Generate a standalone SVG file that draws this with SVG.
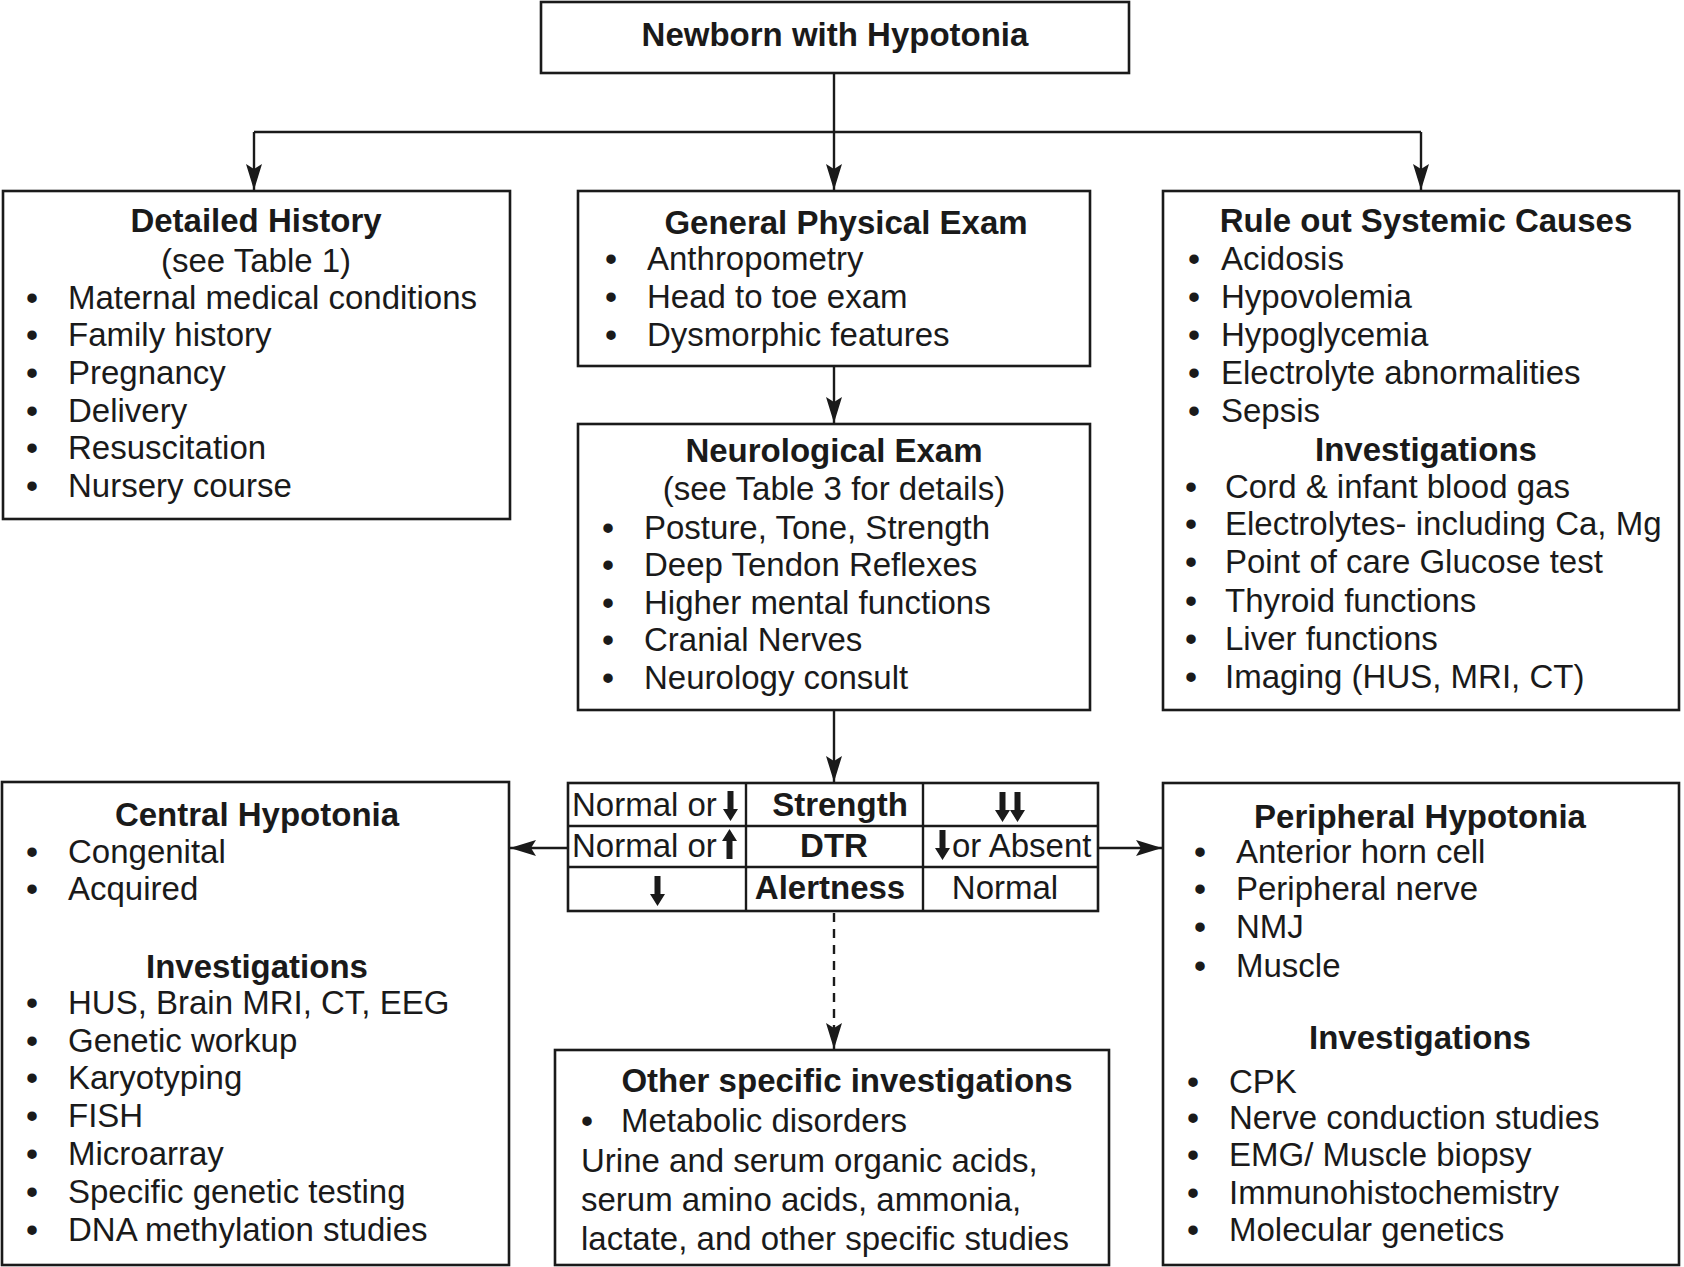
<svg xmlns="http://www.w3.org/2000/svg" width="1684" height="1267" viewBox="0 0 1684 1267">
<style>
.box{fill:#fff;stroke:#1a1a1a;stroke-width:2.6}
.ln{fill:none;stroke:#1a1a1a;stroke-width:2.4}
.dash{fill:none;stroke:#1a1a1a;stroke-width:2.4;stroke-dasharray:9 7}
text{font-family:"Liberation Sans",Arial,Helvetica,sans-serif;font-size:33px;fill:#1a1a1a}
.b{font-weight:bold}
.c{text-anchor:middle}
.bl{text-anchor:middle;font-weight:bold}
.ar{fill:#1a1a1a}
</style>
<defs>
<marker id="ah" markerUnits="userSpaceOnUse" markerWidth="28" markerHeight="18" refX="26" refY="8" orient="auto">
<path d="M0,0 L26,8 L0,16 L5,8 Z" fill="#1a1a1a"/>
</marker>
<path id="dn" class="ar" d="M4.5,0 H10.5 V18 H15 L7.5,30 L0,18 H4.5 Z"/>
<path id="up" class="ar" d="M4.5,30 H10.5 V12 H15 L7.5,0 L0,12 H4.5 Z"/>
</defs>
<rect width="1684" height="1267" fill="#fff"/>

<g id="connectors">
<line class="ln" x1="834" y1="73" x2="834" y2="190" marker-end="url(#ah)"/>
<line class="ln" x1="254" y1="132" x2="1421" y2="132"/>
<line class="ln" x1="254" y1="132" x2="254" y2="190" marker-end="url(#ah)"/>
<line class="ln" x1="1421" y1="132" x2="1421" y2="190" marker-end="url(#ah)"/>
<line class="ln" x1="834" y1="366" x2="834" y2="423" marker-end="url(#ah)"/>
<line class="ln" x1="834" y1="710" x2="834" y2="782" marker-end="url(#ah)"/>
<line class="ln" x1="568" y1="848" x2="510" y2="848" marker-end="url(#ah)"/>
<line class="ln" x1="1098" y1="848" x2="1162" y2="848" marker-end="url(#ah)"/>
<line class="dash" x1="834" y1="913" x2="834" y2="1049" marker-end="url(#ah)"/>
</g>

<g id="node-top">
<rect class="box" x="541" y="2" width="588" height="71"/>
<text class="b c" x="835" y="46">Newborn with Hypotonia</text>
</g>

<g id="node-history">
<rect class="box" x="3" y="191" width="507" height="328"/>
<text class="b c" x="256" y="232">Detailed History</text>
<text class="c" x="256" y="272">(see Table 1)</text>
<text x="32" y="309" class="bl">•</text><text x="68" y="309">Maternal medical conditions</text>
<text x="32" y="346" class="bl">•</text><text x="68" y="346">Family history</text>
<text x="32" y="384" class="bl">•</text><text x="68" y="384">Pregnancy</text>
<text x="32" y="422" class="bl">•</text><text x="68" y="422">Delivery</text>
<text x="32" y="459" class="bl">•</text><text x="68" y="459">Resuscitation</text>
<text x="32" y="497" class="bl">•</text><text x="68" y="497">Nursery course</text>
</g>

<g id="node-gpe">
<rect class="box" x="578" y="191" width="512" height="175"/>
<text class="b c" x="846" y="234">General Physical Exam</text>
<text x="611" y="270" class="bl">•</text><text x="647" y="270">Anthropometry</text>
<text x="611" y="308" class="bl">•</text><text x="647" y="308">Head to toe exam</text>
<text x="611" y="346" class="bl">•</text><text x="647" y="346">Dysmorphic features</text>
</g>

<g id="node-systemic">
<rect class="box" x="1163" y="191" width="516" height="519"/>
<text class="b c" x="1426" y="232">Rule out Systemic Causes</text>
<text x="1194" y="270" class="bl">•</text><text x="1221" y="270">Acidosis</text>
<text x="1194" y="308" class="bl">•</text><text x="1221" y="308">Hypovolemia</text>
<text x="1194" y="346" class="bl">•</text><text x="1221" y="346">Hypoglycemia</text>
<text x="1194" y="384" class="bl">•</text><text x="1221" y="384">Electrolyte abnormalities</text>
<text x="1194" y="422" class="bl">•</text><text x="1221" y="422">Sepsis</text>
<text class="b c" x="1426" y="461">Investigations</text>
<text x="1191" y="498" class="bl">•</text><text x="1225" y="498">Cord &amp; infant blood gas</text>
<text x="1191" y="535" class="bl">•</text><text x="1225" y="535">Electrolytes- including Ca, Mg</text>
<text x="1191" y="573" class="bl">•</text><text x="1225" y="573">Point of care Glucose test</text>
<text x="1191" y="612" class="bl">•</text><text x="1225" y="612">Thyroid functions</text>
<text x="1191" y="650" class="bl">•</text><text x="1225" y="650">Liver functions</text>
<text x="1191" y="688" class="bl">•</text><text x="1225" y="688">Imaging (HUS, MRI, CT)</text>
</g>

<g id="node-neuro">
<rect class="box" x="578" y="424" width="512" height="286"/>
<text class="b c" x="834" y="462">Neurological Exam</text>
<text class="c" x="834" y="500">(see Table 3 for details)</text>
<text x="608" y="539" class="bl">•</text><text x="644" y="539">Posture, Tone, Strength</text>
<text x="608" y="576" class="bl">•</text><text x="644" y="576">Deep Tendon Reflexes</text>
<text x="608" y="614" class="bl">•</text><text x="644" y="614">Higher mental functions</text>
<text x="608" y="651" class="bl">•</text><text x="644" y="651">Cranial Nerves</text>
<text x="608" y="689" class="bl">•</text><text x="644" y="689">Neurology consult</text>
</g>

<g id="node-table">
<rect class="box" x="568" y="783" width="530" height="128"/>
<line class="ln" x1="746" y1="783" x2="746" y2="911"/>
<line class="ln" x1="923" y1="783" x2="923" y2="911"/>
<line class="ln" x1="568" y1="826" x2="1098" y2="826"/>
<line class="ln" x1="568" y1="867" x2="1098" y2="867"/>
<text x="572" y="816">Normal or</text>
<use href="#dn" x="723" y="791"/>
<text class="b c" x="840" y="816">Strength</text>
<use href="#dn" x="995" y="792"/>
<use href="#dn" x="1010" y="792"/>
<text x="572" y="857">Normal or</text>
<use href="#up" x="722" y="829"/>
<text class="b c" x="834" y="857">DTR</text>
<use href="#dn" x="935" y="830"/>
<text x="952" y="857">or Absent</text>
<use href="#dn" x="650" y="876"/>
<text class="b c" x="830" y="899">Alertness</text>
<text class="c" x="1005" y="899">Normal</text>
</g>

<g id="node-central">
<rect class="box" x="2" y="782" width="507" height="483"/>
<text class="b c" x="257" y="826">Central Hypotonia</text>
<text x="32" y="863" class="bl">•</text><text x="68" y="863">Congenital</text>
<text x="32" y="900" class="bl">•</text><text x="68" y="900">Acquired</text>
<text class="b c" x="257" y="978">Investigations</text>
<text x="32" y="1014" class="bl">•</text><text x="68" y="1014">HUS, Brain MRI, CT, EEG</text>
<text x="32" y="1052" class="bl">•</text><text x="68" y="1052">Genetic workup</text>
<text x="32" y="1089" class="bl">•</text><text x="68" y="1089">Karyotyping</text>
<text x="32" y="1127" class="bl">•</text><text x="68" y="1127">FISH</text>
<text x="32" y="1165" class="bl">•</text><text x="68" y="1165">Microarray</text>
<text x="32" y="1203" class="bl">•</text><text x="68" y="1203">Specific genetic testing</text>
<text x="32" y="1241" class="bl">•</text><text x="68" y="1241">DNA methylation studies</text>
</g>

<g id="node-peripheral">
<rect class="box" x="1163" y="783" width="516" height="482"/>
<text class="b c" x="1420" y="828">Peripheral Hypotonia</text>
<text x="1200" y="863" class="bl">•</text><text x="1236" y="863">Anterior horn cell</text>
<text x="1200" y="900" class="bl">•</text><text x="1236" y="900">Peripheral nerve</text>
<text x="1200" y="938" class="bl">•</text><text x="1236" y="938">NMJ</text>
<text x="1200" y="977" class="bl">•</text><text x="1236" y="977">Muscle</text>
<text class="b c" x="1420" y="1049">Investigations</text>
<text x="1193" y="1093" class="bl">•</text><text x="1229" y="1093">CPK</text>
<text x="1193" y="1129" class="bl">•</text><text x="1229" y="1129">Nerve conduction studies</text>
<text x="1193" y="1166" class="bl">•</text><text x="1229" y="1166">EMG/ Muscle biopsy</text>
<text x="1193" y="1204" class="bl">•</text><text x="1229" y="1204">Immunohistochemistry</text>
<text x="1193" y="1241" class="bl">•</text><text x="1229" y="1241">Molecular genetics</text>
</g>

<g id="node-other">
<rect class="box" x="555" y="1050" width="554" height="215"/>
<text class="b c" x="847" y="1092">Other specific investigations</text>
<text x="587" y="1132" class="bl">•</text><text x="621" y="1132">Metabolic disorders</text>
<text x="581" y="1172">Urine and serum organic acids,</text>
<text x="581" y="1211">serum amino acids, ammonia,</text>
<text x="581" y="1250">lactate, and other specific studies</text>
</g>
</svg>
